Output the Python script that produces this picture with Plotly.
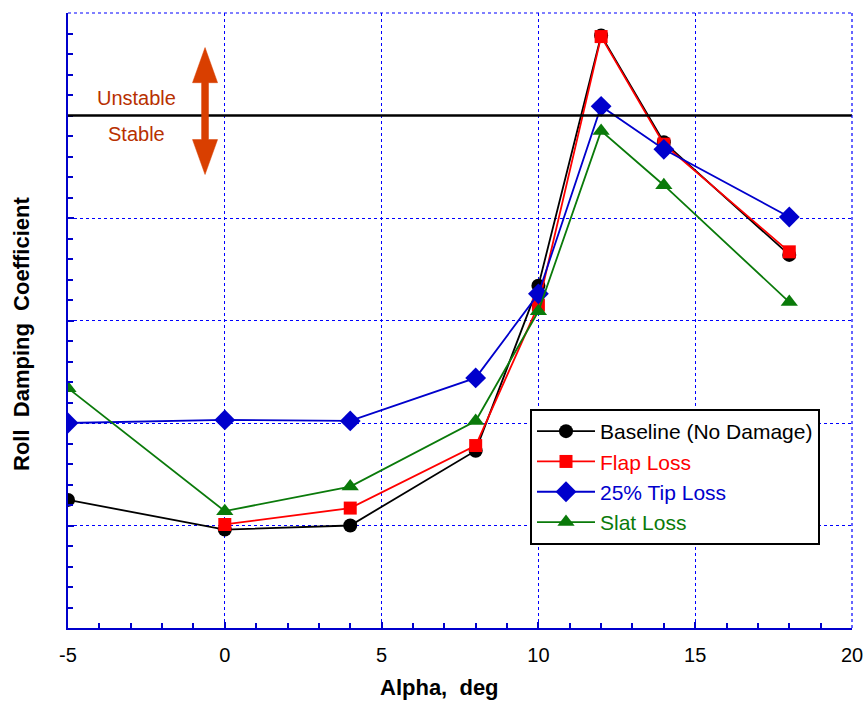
import plotly.graph_objects as go

alpha = [-5, 0, 4, 8, 10, 12, 14, 18]
alpha_flap = [0, 4, 8, 10, 12, 14, 18]

baseline = [-3.75, -4.04, -4.00, -3.27, -1.66, 0.78, -0.26, -1.36]
flap_loss = [-3.99, -3.83, -3.22, -1.85, 0.77, -0.28, -1.33]
tip_loss = [-3.00, -2.97, -2.98, -2.56, -1.74, 0.09, -0.33, -0.99]
slat_loss = [-2.66, -3.86, -3.62, -2.98, -1.91, -0.15, -0.68, -1.82]

x_ticks = [-5, 0, 5, 10, 15, 20]
y_grid = [-5, -4, -3, -2, -1]

BLUE = "#0000FF"
FONT = "Liberation Sans, Arial, sans-serif"

fig = go.Figure()

series = [
    ("Baseline (No Damage)", alpha, baseline, "black", "circle", 14),
    ("Flap Loss", alpha_flap, flap_loss, "#FF0000", "square", 13),
    ("25% Tip Loss", alpha, tip_loss, "#0000CC", "diamond", 16),
    ("Slat Loss", alpha, slat_loss, "#0A7A0A", "triangle-up", 15),
]
for name, xs, ys, col, sym, sz in series:
    fig.add_trace(go.Scatter(
        x=xs, y=ys, mode="lines+markers",
        name=f"<span style='color:{col}'>{name}</span>",
        line=dict(color=col, width=1.8),
        marker=dict(color=col, symbol=sym, size=sz),
    ))

# stability boundary
fig.add_shape(type="line", xref="paper", yref="y", x0=0, x1=1, y0=0, y1=0,
              line=dict(color="black", width=2.5), layer="above")
# dotted top/right frame
fig.add_shape(type="line", xref="paper", yref="paper", x0=0, x1=1, y0=1, y1=1,
              line=dict(color=BLUE, width=1.2, dash="dot"))
fig.add_shape(type="line", xref="paper", yref="paper", x0=1, x1=1, y0=0, y1=1,
              line=dict(color=BLUE, width=1.2, dash="dot"))

# double-headed arrow
ax = -0.63
hw = 0.40
sw = 0.11
top, bot = 0.663, -0.576
hb_top, hb_bot = 0.32, -0.235
path = (f"M {ax},{top} L {ax+hw},{hb_top} L {ax+sw},{hb_top} L {ax+sw},{hb_bot} "
        f"L {ax+hw},{hb_bot} L {ax},{bot} L {ax-hw},{hb_bot} L {ax-sw},{hb_bot} "
        f"L {ax-sw},{hb_top} L {ax-hw},{hb_top} Z")
fig.add_shape(type="path", xref="x", yref="y", path=path,
              fillcolor="#D93F00", line=dict(color="#D93F00", width=0.5), layer="above")

fig.add_annotation(x=-2.8, y=0.175, xref="x", yref="y", text="Unstable", showarrow=False,
                   xanchor="center", yanchor="middle",
                   font=dict(family=FONT, size=20, color="#B83000"))
fig.add_annotation(x=-2.8, y=-0.18, xref="x", yref="y", text="Stable", showarrow=False,
                   xanchor="center", yanchor="middle",
                   font=dict(family=FONT, size=20, color="#B83000"))

# axis titles as annotations
fig.add_annotation(x=(21 - 68) / 784, y=(628 - 334) / 615, xref="paper", yref="paper",
                   text="<b>Roll  Damping  Coefficient</b>", xanchor="center", yanchor="middle",
                   textangle=-90, showarrow=False, font=dict(family=FONT, size=22, color="black"))
fig.add_annotation(x=(439 - 68) / 784, y=(628 - 687) / 615, xref="paper", yref="paper",
                   text="<b>Alpha,  deg</b>", xanchor="center", yanchor="middle",
                   showarrow=False, font=dict(family=FONT, size=22, color="black"))

fig.update_layout(
    width=868, height=702,
    margin=dict(l=68, r=16, t=13, b=74, autoexpand=False),
    paper_bgcolor="white", plot_bgcolor="white",
    showlegend=True,
    legend=dict(x=(530 - 68) / 784, y=(628 - 409) / 615, xanchor="left", yanchor="top",
                bgcolor="white", bordercolor="black", borderwidth=2,
                font=dict(family=FONT, size=21, color="black"),
                itemwidth=58, tracegroupgap=0),
    font=dict(family=FONT),
)
fig.update_xaxes(range=[-5, 20], tickvals=x_ticks, ticktext=[str(v) for v in x_ticks],
                 showline=True, linecolor="#0000CC", linewidth=2,
                 showgrid=True, gridcolor=BLUE, griddash="dot", gridwidth=1.2,
                 ticks="inside", ticklen=6, tickcolor="#0000CC", tickwidth=1.5,
                 ticklabelstandoff=8, automargin=False,
                 minor=dict(dtick=1, ticks="inside", ticklen=5, tickcolor="#0000CC", showgrid=False),
                 tickfont=dict(family=FONT, size=20, color="black"), zeroline=False)
fig.update_yaxes(range=[-5, 1], tickvals=y_grid, showticklabels=False,
                 showline=True, linecolor="#0000CC", linewidth=2,
                 showgrid=True, gridcolor=BLUE, griddash="dot", gridwidth=1.2,
                 ticks="inside", ticklen=6, tickcolor="#0000CC", tickwidth=1.5, automargin=False,
                 minor=dict(tick0=-5, dtick=0.2, ticks="inside", ticklen=5, tickcolor="#0000CC", showgrid=False),
                 zeroline=False)

fig.write_html("out.html")
